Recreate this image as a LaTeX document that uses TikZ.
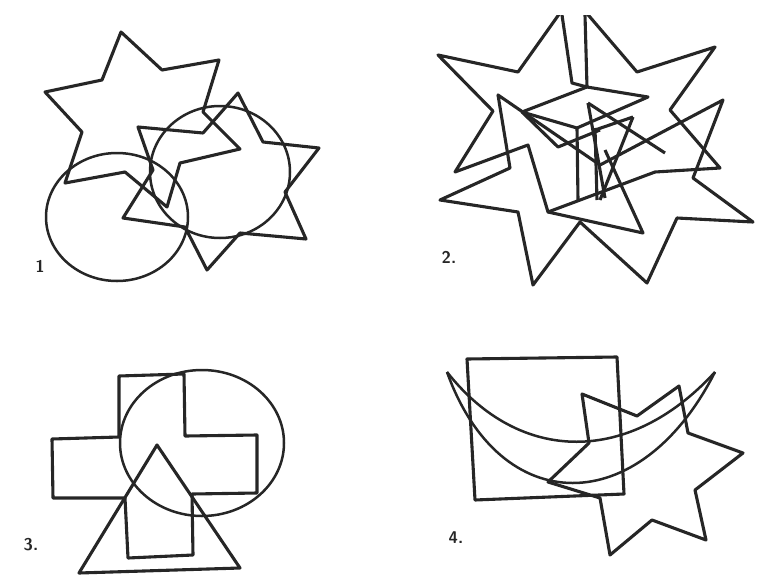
\documentclass[tikz,border=0pt]{standalone}
\usepackage{xcolor}
\usepackage{tikz}
\usetikzlibrary{positioning, calc}

\definecolor{ink}{RGB}{38,38,38}

\begin{document}
\begin{tikzpicture}[x=1pt, y=-1pt]
    \tikzstyle{outline} = [draw=ink, line width=3.1pt, line join=round]
    \tikzstyle{roundline} = [draw=ink, line width=2.5pt]
    \tikzstyle{numlabel} = [font=\fontsize{17}{17}\selectfont\bfseries\sffamily, text=ink, inner sep=0pt]

    \useasboundingbox (0,0) rectangle (771,584);

    % figure 1: two stars and two circles
    \draw [roundline] (117,217) ellipse [x radius=71, y radius=64];
    \draw [roundline] (220,172) ellipse [x radius=70, y radius=66];
    \draw [outline] (121,32) -- (162,70) -- (219,60) -- (203,112) -- (240,149) -- (180,163)
        -- (167,207) -- (125,172) -- (65,183) -- (82,132) -- (45,92) -- (102,80) -- cycle;
    \draw [outline] (238,93) -- (263,142) -- (319,148) -- (285,192) -- (306,239) -- (240,233)
        -- (207,270) -- (185,227) -- (123,218) -- (153,170) -- (138,127) -- (203,133) -- cycle;
    \node [numlabel] (one) at (40,266) {1};

    % figure 2: stars piled up
    \begin{scope}
        \clip (400,15) rectangle (771,300);
        \draw [outline] (438,55) -- (518,72) -- (572,-4) -- (637,72) -- (715,47) -- (670,110)
            -- (720,168) -- (655,172) -- (548,212) -- (528,145) -- (455,172) -- (493,111) -- cycle;
        \draw [outline] (440,200) -- (518,212) -- (533,285) -- (580,222) -- (647,283) -- (677,218)
            -- (753,222) -- (693,178) -- (723,100) -- (600,165) -- (498,95) -- (510,168) -- cycle;
        \draw [outline] (562,15) -- (572,83) -- (587,87) -- (585,15);
        \draw [outline] (522,112) -- (587,87) -- (648,97) -- (577,128) -- cycle;
        \draw [outline] (522,112) -- (558,147) -- (600,130);
        \draw [outline] (577,128) -- (578,200);
        \draw [outline] (595,128) -- (597,200);
        \draw [outline] (588,103) -- (665,153);
        \draw [outline] (588,103) -- (605,198);
        \draw [outline] (633,117) -- (600,200);
        \draw [outline] (633,117) -- (595,130);
        \draw [outline] (548,212) -- (643,233) -- (605,150);
    \end{scope}
    \node [numlabel] (two) at (449,257) {2.};

    % figure 3: cross, circle and triangle
    \draw [roundline] (202,443) ellipse [x radius=82, y radius=73];
    \draw [outline] (119,376) -- (184,374) -- (185,436) -- (257,435) -- (257,493) -- (192,494)
        -- (193,555) -- (128,558) -- (125,498) -- (53,498) -- (52,439) -- (119,437) -- cycle;
    \draw [outline] (157,445) -- (79,573) -- (240,568) -- cycle;
    \node [numlabel] (three) at (31,545) {3.};

    % figure 4: square, crescent and star
    \draw [outline] (467,359) -- (617,357) -- (624,494) -- (475,500) -- cycle;
    \draw [roundline] (447,372) .. controls (520,465) and (630,465) .. (715,372);
    \draw [roundline] (447,372) .. controls (500,520) and (640,520) .. (715,372);
    \draw [outline] (582,394) -- (637,416) -- (679,386) -- (688,433) -- (743,453) -- (695,490)
        -- (706,540) -- (652,520) -- (610,555) -- (600,498) -- (548,482) -- (589,443) -- cycle;
    \node [numlabel] (four) at (456,538) {4.};
\end{tikzpicture}
\end{document}
